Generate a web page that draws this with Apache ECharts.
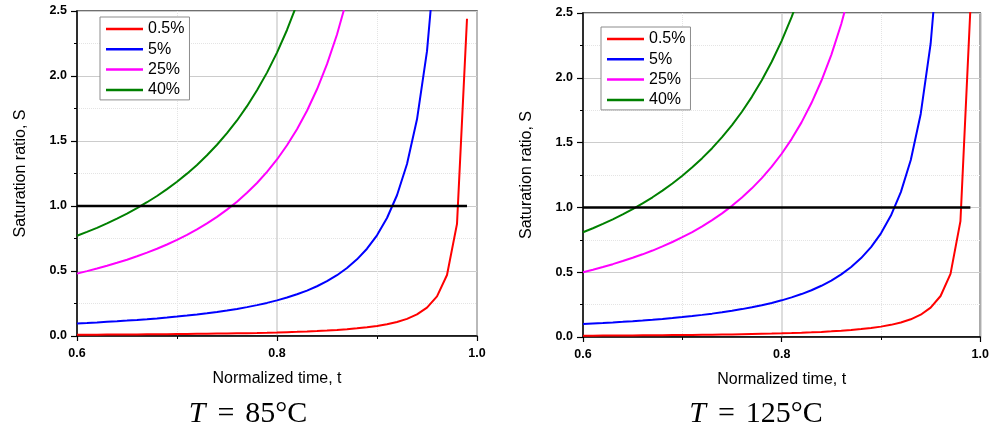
<!DOCTYPE html>
<html>
<head>
<meta charset="utf-8">
<script src="https://cdn.jsdelivr.net/npm/echarts@6/dist/echarts.min.js"></script>
<style>
  html, body { margin: 0; padding: 0; background: #ffffff; }
  #chart { width: 992px; height: 429px; }
</style>
</head>
<body>
<div id="chart"></div>
<script>
// Normalized time samples (shared by every curve)
const tValues = [0.60, 0.61, 0.62, 0.63, 0.64, 0.65, 0.66, 0.67, 0.68, 0.69,
                 0.70, 0.71, 0.72, 0.73, 0.74, 0.75, 0.76, 0.77, 0.78, 0.79,
                 0.80, 0.81, 0.82, 0.83, 0.84, 0.85, 0.86, 0.87, 0.88, 0.89,
                 0.90, 0.91, 0.92, 0.93, 0.94, 0.95, 0.96, 0.97, 0.98, 0.99];

// Saturation ratio at T = 85 °C
const s85_p05 = [0.0096, 0.0100, 0.0104, 0.0108, 0.0113, 0.0118, 0.0123, 0.0129, 0.0135, 0.0141,
                 0.0149, 0.0156, 0.0165, 0.0174, 0.0184, 0.0195, 0.0208, 0.0221, 0.0236, 0.0254,
                 0.0273, 0.0295, 0.0319, 0.0348, 0.0381, 0.0420, 0.0466, 0.0521, 0.0587, 0.0669,
                 0.0772, 0.0904, 0.1078, 0.1318, 0.1660, 0.2182, 0.305, 0.4696, 0.8627, 2.44];
const s85_p5 = [0.0969, 0.1006, 0.1046, 0.1089, 0.1134, 0.1183, 0.1236, 0.1292, 0.1353, 0.1420,
                0.1491, 0.1569, 0.1653, 0.1746, 0.1848, 0.1960, 0.2084, 0.2221, 0.2374, 0.2546,
                0.2739, 0.2958, 0.3208, 0.3495, 0.3828, 0.4217, 0.4677, 0.5228, 0.5895, 0.6715,
                0.7747, 0.9075, 1.0827, 1.323, 1.667, 2.191, 3.063];
const s85_p25 = [0.480, 0.499, 0.519, 0.540, 0.563, 0.587, 0.613, 0.641, 0.671, 0.704,
                 0.739, 0.778, 0.820, 0.866, 0.916, 0.972, 1.033, 1.102, 1.177, 1.263,
                 1.358, 1.467, 1.591, 1.733, 1.898, 2.091, 2.319, 2.593];
const s85_p40 = [0.771, 0.801, 0.832, 0.866, 0.903, 0.942, 0.984, 1.029, 1.077, 1.130,
                 1.187, 1.249, 1.316, 1.390, 1.471, 1.560, 1.658, 1.768, 1.890, 2.026,
                 2.180, 2.354, 2.553];

// Saturation ratio at T = 125 °C
const s125_p05 = [0.0100, 0.0104, 0.0108, 0.0112, 0.0117, 0.0122, 0.0128, 0.0133, 0.0140, 0.0147,
                  0.0154, 0.0162, 0.0171, 0.0180, 0.0191, 0.0202, 0.0215, 0.0229, 0.0245, 0.0263,
                  0.0283, 0.0305, 0.0331, 0.0361, 0.0395, 0.0435, 0.0483, 0.0540, 0.0609, 0.0693,
                  0.0800, 0.0937, 0.1118, 0.1366, 0.1721, 0.2263, 0.3163, 0.4869, 0.8946, 2.530];
const s125_p5 = [0.1000, 0.1039, 0.1080, 0.1124, 0.1171, 0.1222, 0.1276, 0.1335, 0.1398, 0.1466,
                 0.1540, 0.1620, 0.1707, 0.1803, 0.1908, 0.2024, 0.2152, 0.2294, 0.2452, 0.2629,
                 0.2829, 0.3055, 0.3313, 0.3610, 0.3953, 0.4355, 0.4830, 0.5399, 0.6087, 0.6935,
                 0.8000, 0.9371, 1.118, 1.366, 1.721, 2.263, 3.163];
const s125_p25 = [0.500, 0.519, 0.540, 0.562, 0.586, 0.611, 0.638, 0.667, 0.699, 0.733,
                  0.770, 0.810, 0.854, 0.902, 0.954, 1.012, 1.076, 1.147, 1.226, 1.315,
                  1.414, 1.527, 1.656, 1.805, 1.977, 2.177, 2.415, 2.700];
const s125_p40 = [0.808, 0.839, 0.873, 0.908, 0.946, 0.987, 1.031, 1.078, 1.129, 1.184,
                  1.244, 1.309, 1.380, 1.457, 1.542, 1.635, 1.738, 1.853, 1.981, 2.124,
                  2.285, 2.468, 2.676];

// Threshold S = 1
const thresholdT = [0.60, 0.99];
const thresholdS = [1.0, 1.0];

const seriesNames = ['0.5%', '5%', '25%', '40%'];
const seriesColors = ['#ff0000', '#0000ff', '#ff00ff', '#008000'];
const panelCurves = [
  [s85_p05, s85_p5, s85_p25, s85_p40],
  [s125_p05, s125_p5, s125_p25, s125_p40]
];
const panelTitles = ['85°C', '125°C'];

const xTicks = { min: 0.6, max: 1.0, interval: 0.2 };
const yTicks = { min: 0, max: 2.5, interval: 0.5 };

const FONT = '"Liberation Sans", Arial, sans-serif';

const grids = [
  { left: 77, top: 11, width: 400, height: 325 },
  { left: 583, top: 13, width: 399, height: 324 }
];

function pairs(xs, ys) {
  return ys.map((v, i) => [xs[i], v]);
}

const xAxes = grids.map((g, i) => ({
  type: 'value', gridIndex: i,
  min: xTicks.min, max: xTicks.max, interval: xTicks.interval,
  name: 'Normalized time, t', nameLocation: 'middle', nameGap: 35,
  nameTextStyle: { fontFamily: FONT, fontSize: 16, color: '#000' },
  axisLine: { show: true, lineStyle: { color: '#000', width: 1.5 } },
  axisTick: { show: true, length: 5, lineStyle: { color: '#000', width: 1.2 } },
  minorTick: { show: true, splitNumber: 2, length: 3, lineStyle: { color: '#000', width: 1 } },
  axisLabel: { margin: 11, fontFamily: FONT, fontSize: 12.5, fontWeight: 'bold', color: '#000',
               formatter: v => v.toFixed(1) },
  splitLine: { show: true, lineStyle: { color: '#d2d2d2', width: 1.5 } },
  minorSplitLine: { show: true, lineStyle: { color: '#e4e4e4', width: 1, type: 'dotted' } }
}));

const yAxes = grids.map((g, i) => ({
  type: 'value', gridIndex: i,
  min: yTicks.min, max: yTicks.max, interval: yTicks.interval,
  name: 'Saturation ratio, S', nameLocation: 'middle', nameGap: 48,
  nameTextStyle: { fontFamily: FONT, fontSize: 16, color: '#000' },
  axisLine: { show: true, lineStyle: { color: '#000', width: 1.5 } },
  axisTick: { show: true, length: 6, lineStyle: { color: '#000', width: 1.2 } },
  minorTick: { show: true, splitNumber: 2, length: 3, lineStyle: { color: '#000', width: 1 } },
  axisLabel: { margin: 10, fontFamily: FONT, fontSize: 12.5, fontWeight: 'bold', color: '#000',
               formatter: v => v.toFixed(1) },
  splitLine: { show: true, lineStyle: { color: '#cccccc', width: 1 } },
  minorSplitLine: { show: true, lineStyle: { color: '#e4e4e4', width: 1, type: 'dotted' } }
}));

const series = [];
panelCurves.forEach((curves, p) => {
  curves.forEach((vals, k) => {
    series.push({
      type: 'line', name: seriesNames[k], xAxisIndex: p, yAxisIndex: p,
      data: pairs(tValues, vals), symbol: 'none', showSymbol: false, clip: true,
      lineStyle: { color: seriesColors[k], width: 2 }, itemStyle: { color: seriesColors[k] },
      z: 3
    });
  });
  series.push({
    type: 'line', name: 'S = 1', xAxisIndex: p, yAxisIndex: p,
    data: pairs(thresholdT, thresholdS), symbol: 'none', showSymbol: false,
    lineStyle: { color: '#000', width: 2.5 }, z: 4
  });
});

const legendBase = {
  orient: 'vertical', data: seriesNames, icon: 'rect',
  itemWidth: 37, itemHeight: 2.5, itemGap: 4.3,
  padding: [4, 5, 2, 6],
  backgroundColor: '#ffffff', borderColor: '#8c8c8c', borderWidth: 1, borderRadius: 0,
  textStyle: { fontFamily: FONT, fontSize: 16, color: '#000', lineHeight: 16 },
  selectedMode: false
};

const subtitleCenters = [248, 756];
const graphics = panelTitles.map((label, i) => ({
  type: 'text', x: subtitleCenters[i], y: 414, z: 10,
  style: {
    text: '{i|T}{e|=}{n|' + label + '}',
    align: 'center', verticalAlign: 'middle',
    rich: {
      i: { fontFamily: '"Liberation Serif", "Times New Roman", serif', fontStyle: 'italic', fontSize: 30, fill: '#000' },
      e: { fontFamily: '"Liberation Serif", "Times New Roman", serif', fontSize: 30, fill: '#000', padding: [0, 11, 0, 12] },
      n: { fontFamily: '"Liberation Serif", "Times New Roman", serif', fontSize: 30, fill: '#000' }
    }
  }
}));

const chart = echarts.init(document.getElementById('chart'), null, { renderer: 'canvas' });
chart.setOption({
  animation: false,
  backgroundColor: '#ffffff',
  grid: grids.map(g => Object.assign({ show: true, borderColor: '#404040', borderWidth: 1.5, containLabel: false }, g)),
  xAxis: xAxes,
  yAxis: yAxes,
  legend: [
    Object.assign({ left: 100, top: 17 }, legendBase),
    Object.assign({ left: 601, top: 27 }, legendBase)
  ],
  series: series,
  graphic: graphics
});
</script>
</body>
</html>
